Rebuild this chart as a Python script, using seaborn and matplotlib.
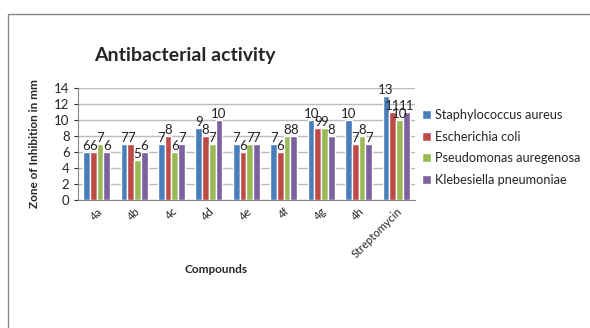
import numpy as np
import pandas as pd
import seaborn as sns
import matplotlib.pyplot as plt
from matplotlib.patches import Rectangle

sns.set_style('white')
plt.rcParams['font.family'] = ['Lato', 'DejaVu Sans']

compounds = ['4a', '4b', '4c', '4d', '4e', '4f', '4g', '4h', 'Streptomycin']
staph = [6, 7, 7, 9, 7, 7, 10, 10, 13]
ecoli = [6, 7, 8, 8, 6, 6, 9, 7, 11]
pseudo = [7, 5, 6, 7, 7, 8, 9, 8, 10]
kleb = [6, 6, 7, 10, 7, 8, 8, 7, 11]
series = ['Staphylococcus aureus', 'Escherichia coli',
          'Pseudomonas auregenosa', 'Klebesiella pneumoniae']
colors = ['#4a7ebb', '#be4b48', '#98b954', '#7d60a0']

df = pd.DataFrame({'Compound': compounds, series[0]: staph, series[1]: ecoli,
                   series[2]: pseudo, series[3]: kleb})
df = df.melt('Compound', var_name='Organism', value_name='Zone')

fig = plt.figure(figsize=(5.9, 3.28), dpi=100)
ax = fig.add_axes([0.132, 0.39, 0.571, 0.342])
sns.barplot(data=df, x='Compound', y='Zone', hue='Organism', palette=colors,
            width=0.72, saturation=1, ax=ax, zorder=3)

for cont in ax.containers:
    ax.bar_label(cont, fontsize=9.5, padding=0, color='#222222')

ax.set_ylim(0, 14)
ax.set_yticks(range(0, 15, 2))
ax.yaxis.grid(True, color='#bbbbbb', linewidth=1)
ax.tick_params(axis='y', labelsize=9.5, length=3, left=True, pad=3)
ax.tick_params(axis='x', labelsize=8, length=0, pad=4)
plt.setp(ax.get_xticklabels(), rotation=45, ha='right', rotation_mode='anchor')
for s in ['top', 'right']:
    ax.spines[s].set_visible(False)
ax.spines['left'].set_color('#888888')
ax.spines['bottom'].set_color('#888888')
ax.set_xlabel('Compounds', fontsize=8.5, fontweight='bold')
ax.xaxis.set_label_coords(0.41, -0.57)
ax.set_ylabel('Zone of Inhibition in mm', fontsize=8.5, fontweight='bold', labelpad=10)

ax.legend(loc='center left', bbox_to_anchor=(1.0, 0.47), frameon=False,
          fontsize=9.2, handlelength=0.7, handleheight=0.7, labelspacing=0.75,
          handletextpad=0.3, borderaxespad=0.2)

fig.text(0.16, 0.815, 'Antibacterial activity', fontsize=14, fontweight='bold')
fig.patches.append(Rectangle((0.014, -0.1), 1.2, 1.058, transform=fig.transFigure,
                             fill=False, edgecolor='#888888', linewidth=1))

fig.savefig('out.png', dpi=100)
